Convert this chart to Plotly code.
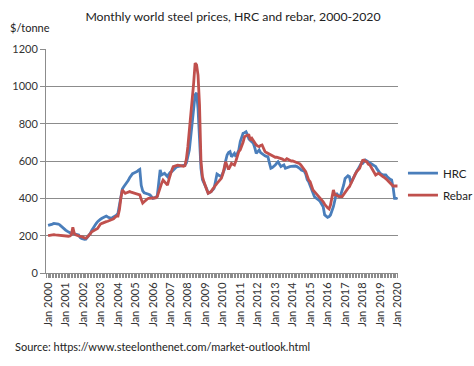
import pandas as pd
import plotly.graph_objects as go

# Monthly values, Jan 2000 .. Jan 2020 ($/tonne)
hrc_by_year = {
    2000: [255, 256, 258, 262, 266, 266, 265, 262, 258, 250, 242, 238],
    2001: [230, 224, 218, 216, 214, 213, 212, 209, 206, 204, 190, 185],
    2002: [182, 180, 181, 190, 200, 212, 228, 242, 255, 265, 275, 283],
    2003: [288, 293, 298, 302, 305, 300, 296, 293, 296, 300, 302, 310],
    2004: [320, 370, 420, 450, 462, 472, 480, 495, 510, 525, 532, 536],
    2005: [538, 543, 550, 555, 470, 440, 430, 428, 427, 422, 418, 410],
    2006: [400, 402, 405, 412, 480, 552, 525, 530, 534, 525, 516, 530],
    2007: [540, 543, 552, 561, 566, 570, 572, 573, 573, 575, 578, 590],
    2008: [620, 659, 730, 802, 900, 955, 965, 880, 720, 560, 500, 485],
    2009: [470, 448, 427, 430, 436, 445, 453, 490, 530, 525, 520, 516],
    2010: [535, 552, 600, 632, 645, 650, 623, 632, 641, 623, 640, 659],
    2011: [704, 726, 748, 752, 757, 740, 718, 710, 700, 695, 670, 641],
    2012: [650, 659, 645, 638, 632, 628, 625, 623, 590, 561, 565, 570],
    2013: [578, 588, 596, 583, 570, 575, 579, 561, 565, 568, 570, 571],
    2014: [572, 573, 573, 570, 566, 560, 552, 548, 545, 530, 500, 489],
    2015: [467, 445, 427, 409, 402, 398, 391, 382, 370, 355, 311, 305],
    2016: [298, 302, 311, 333, 355, 390, 427, 418, 409, 418, 440, 470],
    2017: [507, 515, 521, 516, 482, 498, 516, 530, 545, 558, 570, 585],
    2018: [587, 596, 605, 600, 596, 592, 587, 580, 575, 570, 556, 543],
    2019: [535, 530, 525, 525, 525, 516, 507, 502, 498, 460, 400, 398],
    2020: [400],
}
rebar_by_year = {
    2000: [200, 202, 205, 205, 205, 204, 203, 203, 202, 200, 198, 197],
    2001: [195, 196, 197, 198, 205, 245, 212, 205, 200, 198, 196, 195],
    2002: [192, 188, 186, 193, 200, 210, 221, 226, 232, 236, 239, 250],
    2003: [262, 266, 270, 273, 275, 277, 280, 282, 284, 290, 298, 305],
    2004: [305, 340, 400, 445, 435, 427, 430, 433, 436, 433, 430, 427],
    2005: [425, 424, 422, 418, 395, 375, 382, 391, 396, 400, 400, 400],
    2006: [400, 400, 403, 409, 435, 462, 480, 498, 490, 480, 471, 500],
    2007: [530, 552, 570, 573, 575, 578, 577, 575, 573, 572, 575, 610],
    2008: [677, 757, 837, 925, 1016, 1125, 1115, 1060, 900, 600, 516, 490],
    2009: [462, 445, 427, 430, 436, 448, 462, 470, 480, 490, 500, 507],
    2010: [530, 560, 596, 575, 555, 570, 587, 583, 579, 600, 623, 650],
    2011: [660, 680, 700, 730, 735, 739, 739, 712, 721, 710, 695, 686],
    2012: [680, 677, 683, 686, 668, 650, 645, 640, 635, 632, 628, 623],
    2013: [620, 620, 618, 618, 615, 610, 605, 605, 612, 608, 603, 600],
    2014: [600, 597, 594, 590, 587, 585, 575, 565, 552, 543, 520, 498],
    2015: [489, 468, 445, 436, 427, 420, 409, 405, 395, 382, 368, 355],
    2016: [349, 343, 364, 405, 445, 418, 418, 412, 409, 409, 409, 420],
    2017: [436, 445, 453, 462, 480, 495, 515, 530, 543, 552, 561, 583],
    2018: [603, 605, 598, 596, 583, 579, 565, 552, 540, 525, 530, 534],
    2019: [528, 520, 516, 512, 507, 498, 490, 480, 470, 466, 466, 466],
    2020: [466],
}

hrc = [v for y in sorted(hrc_by_year) for v in hrc_by_year[y]]
rebar = [v for y in sorted(rebar_by_year) for v in rebar_by_year[y]]
months = pd.date_range("2000-01-01", periods=len(hrc), freq="MS")

title_text = "Monthly world steel prices, HRC and rebar, 2000-2020"
unit_text = "$/tonne"
source_text = "Source: https://www.steelonthenet.com/market-outlook.html"

FONT = "Lato"
GRID = "#8c8c8c"

fig = go.Figure()
fig.add_trace(go.Scatter(x=months, y=hrc, mode="lines", name="HRC", legendgroup="hrc",
                         line=dict(color="#4a7ebb", width=2.8)))
fig.add_trace(go.Scatter(x=months, y=rebar, mode="lines", name="Rebar", legendgroup="rebar",
                         line=dict(color="#c0504d", width=2.8)))

# figure is a bit wider than the 474px window (overflow hidden) so the legend
# never pushes the plot margins
W, H = 500, 366
fig.update_layout(
    width=W, height=H,
    margin=dict(l=43, r=102, t=49, b=93),
    paper_bgcolor="white", plot_bgcolor="white",
    font=dict(family=FONT, size=11, color="#333333"),
    title=dict(text=title_text, x=233 / W, xref="container", xanchor="center",
               y=1 - 17 / H, yref="container", yanchor="middle",
               font=dict(family=FONT, size=12.3, color="#222222")),
    showlegend=True,
    legend=dict(x=1.0141, xanchor="left", y=0.511, yanchor="top",
                font=dict(family=FONT, size=11.5, color="#222222"),
                bgcolor="rgba(0,0,0,0)", itemwidth=30, tracegroupgap=3),
    xaxis=dict(
        type="date",
        range=["1999-11-18", "2020-01-12"],
        tick0="2000-01-01", dtick="M12", tickformat="%b %Y",
        tickangle=-90, ticks="outside", ticklen=4, tickcolor=GRID,
        showgrid=False, showline=True, linecolor=GRID, linewidth=1,
        minor=dict(dtick="M1", ticks="outside", ticklen=4, tickcolor=GRID, showgrid=False),
        tickfont=dict(family=FONT, size=11, color="#333333"),
        zeroline=False,
    ),
    yaxis=dict(
        range=[0, 1200], dtick=200, showgrid=True, gridcolor=GRID, gridwidth=1,
        showline=True, linecolor=GRID, linewidth=1,
        ticks="outside", ticklen=5, tickcolor=GRID,
        tickfont=dict(family=FONT, size=11, color="#333333"),
        zeroline=False,
    ),
    annotations=[
        dict(text=unit_text, xref="paper", yref="paper", x=-0.107, y=1.094,
             xanchor="left", yanchor="middle", showarrow=False,
             font=dict(family=FONT, size=11, color="#222222")),
        dict(text=source_text, xref="paper", yref="paper", x=-0.093, y=-0.326,
             xanchor="left", yanchor="middle", showarrow=False,
             font=dict(family=FONT, size=11, color="#222222")),
    ],
)

# remove the browser's default 8px body margin so the figure starts at the window corner
fig.write_html("out.html", config={"displayModeBar": False},
               post_script="document.body.style.margin='0';document.body.style.overflow='hidden';")
